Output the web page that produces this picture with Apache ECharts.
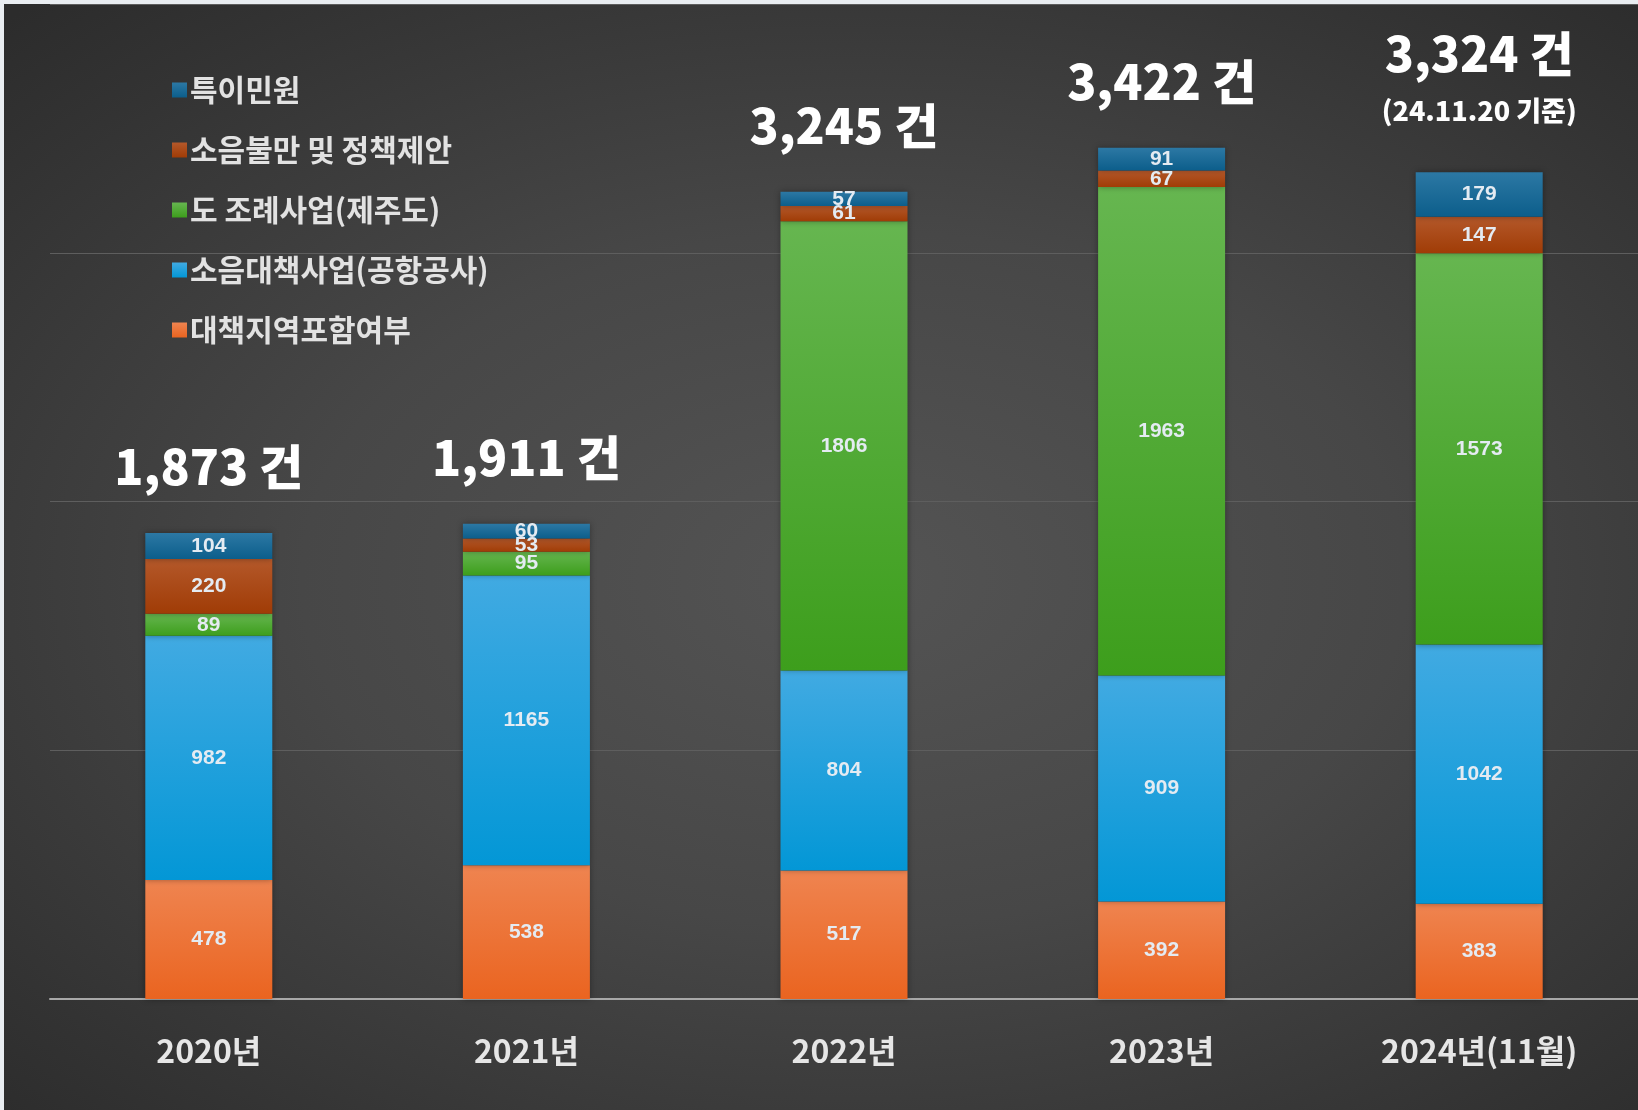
<!DOCTYPE html>
<html>
<head>
<meta charset="utf-8">
<script src="https://cdn.jsdelivr.net/npm/echarts@6/dist/echarts.min.js"></script>
<style>
    html, body { margin: 0; padding: 0; background: #e9edf1; }
    #wrap { position: relative; width: 1638px; height: 1110px; background: #e9edf1; overflow: hidden; }
    #chart {
        position: absolute; left: 4px; top: 4px; width: 1634px; height: 1106px;
        background: radial-gradient(ellipse 75% 70% at 52% 52%, #545454 0%, #474747 45%, #333333 85%, #2c2c2c 100%);
    }
</style>
</head>
<body>
<div id="wrap"><div id="chart"></div></div>
<script>
    // 연도별 민원 건수
    const years = ['2020년', '2021년', '2022년', '2023년', '2024년(11월)'];
    const inclusion = [478, 538, 517, 392, 383]; // 대책지역포함여부
    const airportWork = [982, 1165, 804, 909, 1042]; // 소음대책사업(공항공사)
    const jejuWork = [89, 95, 1806, 1963, 1573]; // 도 조례사업(제주도)
    const complaints = [220, 53, 61, 67, 147]; // 소음불만 및 정책제안
    const special = [104, 60, 57, 91, 179]; // 특이민원
    const totalNotes = ['', '', '', '', '(24.11.20 기준)'];
    const yTicks = [0, 1000, 2000, 3000, 4000];

    const names = ['대책지역포함여부', '소음대책사업(공항공사)', '도 조례사업(제주도)', '소음불만 및 정책제안', '특이민원'];
    const values = [inclusion, airportWork, jejuWork, complaints, special];
    const colors = [
        ['#ef8450', '#ea6420'],
        ['#41aae2', '#0397d6'],
        ['#66b650', '#3d9e1c'],
        ['#b4582a', '#a03c06'],
        ['#2c78a4', '#0c5e8b']
    ];
    const totals = years.map((y, i) => values.reduce((s, arr) => s + arr[i], 0));

    const grad = (c) => new echarts.graphic.LinearGradient(0, 0, 0, 1, [
        { offset: 0, color: c[0] },
        { offset: 1, color: c[1] }
    ]);

    const series = names.map((name, k) => ({
        name,
        type: 'bar',
        stack: 'total',
        barWidth: 127,
        itemStyle: {
            color: grad(colors[k]),
            shadowBlur: 6,
            shadowColor: 'rgba(0,0,0,0.35)'
        },
        label: {
            show: true,
            position: 'inside',
            color: '#e4ebf2',
            fontFamily: 'Liberation Sans',
            fontWeight: 'bold',
            fontSize: 21
        },
        data: values[k]
    }));

    // 합계 라벨
    series.push({
        name: '합계',
        type: 'bar',
        stack: 'total',
        barWidth: 127,
        itemStyle: { color: 'transparent' },
        label: {
            show: true,
            position: 'top',
            distance: 36,
            formatter: (p) => {
                const main = '{big|' + totals[p.dataIndex].toLocaleString('en-US') + ' 건}';
                const note = totalNotes[p.dataIndex];
                return note ? main + '\n{gap1| }\n{sub|' + note + '}\n{gap2| }' : main;
            },
            rich: {
                big: {
                    color: '#ffffff',
                    fontFamily: 'Noto Sans CJK KR',
                    fontWeight: 900,
                    fontSize: 48,
                    lineHeight: 60
                },
                sub: {
                    color: '#ffffff',
                    fontFamily: 'Noto Sans CJK KR',
                    fontWeight: 900,
                    fontSize: 27,
                    lineHeight: 34
                },
                gap1: { fontSize: 1, lineHeight: 10 },
                gap2: { fontSize: 1, lineHeight: 8 }
            }
        },
        data: years.map(() => 0)
    });

    const myChart = echarts.init(document.getElementById('chart'));
    myChart.setOption({
        animation: false,
        legend: {
            data: names.slice().reverse(),
            orient: 'vertical',
            left: 163,
            top: 66,
            itemWidth: 15,
            itemHeight: 15,
            itemGap: 30,
            icon: 'rect',
            textStyle: {
                color: '#e2e2e2',
                fontFamily: 'Noto Sans CJK KR',
                fontWeight: 'bold',
                fontSize: 30,
                padding: [0, 0, 0, -2]
            }
        },
        grid: {
            left: 46,
            right: 0,
            top: 0,
            bottom: 111
        },
        xAxis: {
            type: 'category',
            data: years,
            axisTick: { show: false },
            axisLine: { lineStyle: { color: '#a8a8a8', width: 2 } },
            axisLabel: {
                margin: 36,
                color: '#e6e6e6',
                fontFamily: 'Liberation Sans Narrow, Noto Sans CJK KR',
                fontWeight: 'bold',
                fontSize: 32
            }
        },
        yAxis: {
            type: 'value',
            min: yTicks[0],
            max: yTicks[yTicks.length - 1],
            interval: yTicks[1] - yTicks[0],
            axisLabel: { show: false },
            axisLine: { show: false },
            splitLine: { lineStyle: { color: '#5e5e5e', width: 1 } }
        },
        series
    });
</script>
</body>
</html>
